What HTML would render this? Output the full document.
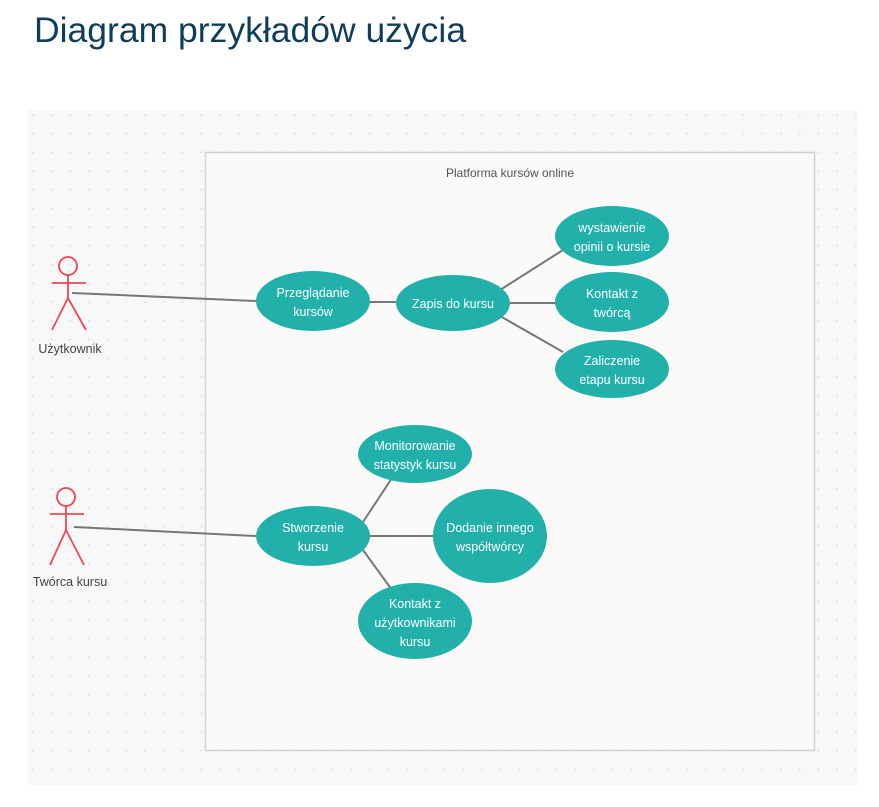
<!DOCTYPE html>
<html><head><meta charset="utf-8"><style>
body{margin:0;background:#fff;width:879px;height:807px;overflow:hidden;font-family:"Liberation Sans",sans-serif}
h1{position:absolute;left:34px;top:10px;margin:0;font-weight:400;font-size:35.5px;color:#0f3d5c;letter-spacing:0}
svg{position:absolute;left:0;top:0}
</style></head><body>
<h1>Diagram przykładów użycia</h1>
<svg width="879" height="807" font-family="Liberation Sans, sans-serif">
<defs><pattern id="d" x="32" y="114" width="18.7" height="18.7" patternUnits="userSpaceOnUse"><circle cx="1" cy="1" r="0.9" fill="#d6d6de"/></pattern></defs>
<rect x="28" y="110" width="830" height="675" fill="#f8f8fa"/>
<rect x="28" y="110" width="830" height="675" fill="url(#d)"/>
<rect x="205.5" y="152.5" width="609" height="598" fill="#fbfaf9" stroke="#d2d2d2" stroke-width="1.5"/>
<text x="510" y="177" font-size="12" fill="#555" text-anchor="middle">Platforma kursów online</text>
<g stroke="#777" stroke-width="2">
<line x1="72" y1="293" x2="256" y2="301"/><line x1="370" y1="302" x2="396" y2="302"/>
<line x1="500" y1="290" x2="563" y2="250"/><line x1="510" y1="303" x2="556" y2="303"/><line x1="500" y1="316" x2="563" y2="352"/>
<line x1="74" y1="527" x2="256" y2="536"/><line x1="363" y1="522" x2="392" y2="478"/><line x1="370" y1="536" x2="433" y2="536"/><line x1="363" y1="550" x2="392" y2="590"/>
</g>
<g fill="none" stroke="#f0484c" stroke-width="1.8">
<circle cx="68" cy="266" r="9"/><line x1="68" y1="275" x2="68" y2="298"/><line x1="52" y1="283" x2="86" y2="283"/><polyline points="52,330 68,298 86,330"/>
<circle cx="66" cy="497" r="9"/><line x1="66" y1="506" x2="66" y2="530"/><line x1="50" y1="514" x2="84" y2="514"/><polyline points="50,565 66,530 84,565"/>
</g>
<g font-size="12.5" fill="#444" text-anchor="middle"><text x="70" y="353">Użytkownik</text><text x="70" y="586">Twórca kursu</text></g>
<g fill="#22b0ab">
<ellipse cx="313" cy="301" rx="57" ry="30"/><ellipse cx="453" cy="303" rx="57" ry="28"/>
<ellipse cx="612" cy="236" rx="57" ry="30"/><ellipse cx="612" cy="302" rx="57" ry="30"/><ellipse cx="612" cy="369" rx="57" ry="29"/>
<ellipse cx="415" cy="454" rx="57" ry="29"/><ellipse cx="313" cy="536" rx="57" ry="30"/><ellipse cx="490" cy="536" rx="57" ry="47"/><ellipse cx="415" cy="621" rx="57" ry="38"/>
</g>
<g font-size="12.5" fill="#fff" text-anchor="middle">
<text x="313" y="297">Przeglądanie</text><text x="313" y="316">kursów</text>
<text x="453" y="308">Zapis do kursu</text>
<text x="612" y="232">wystawienie</text><text x="612" y="251">opinii o kursie</text>
<text x="612" y="298">Kontakt z</text><text x="612" y="317">twórcą</text>
<text x="612" y="365">Zaliczenie</text><text x="612" y="384">etapu kursu</text>
<text x="415" y="450">Monitorowanie</text><text x="415" y="469">statystyk kursu</text>
<text x="313" y="532">Stworzenie</text><text x="313" y="551">kursu</text>
<text x="490" y="532">Dodanie innego</text><text x="490" y="551">współtwórcy</text>
<text x="415" y="608">Kontakt z</text><text x="415" y="627">użytkownikami</text><text x="415" y="646">kursu</text>
</g>
</svg>
</body></html>
